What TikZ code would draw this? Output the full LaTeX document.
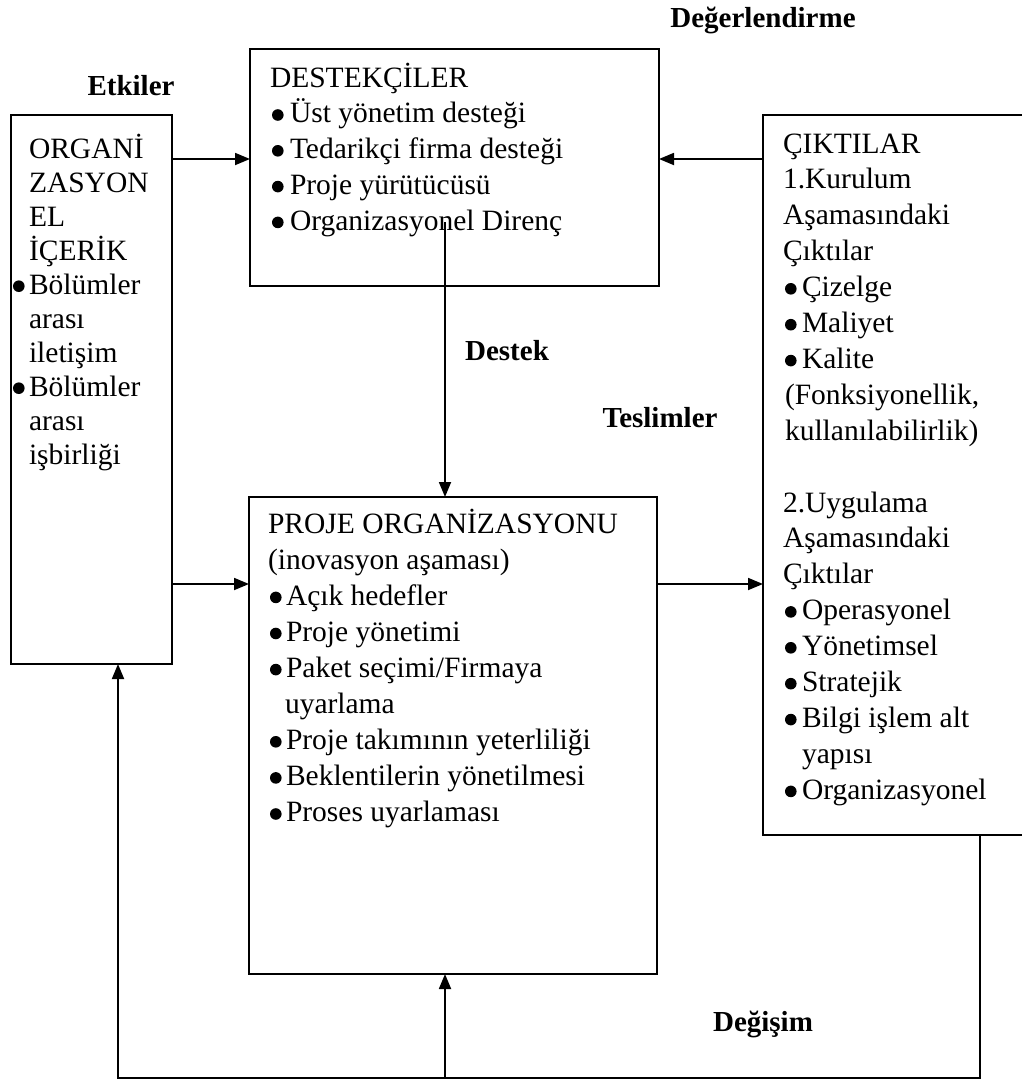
\documentclass[tikz,border=0pt]{standalone}
\usepackage{fontspec}
\setmainfont{Liberation Serif}
\usetikzlibrary{arrows.meta}
\newcommand\bul[1][17pt]{\makebox[#1][l]{\tikz[baseline=0pt]\fill (5.8pt,7.8pt) circle[radius=5.8pt];}}
\begin{document}
\begin{tikzpicture}[x=1pt,y=-1pt,
  box/.style={draw, line width=2.2pt, inner sep=0pt, outer sep=0pt, anchor=north west},
  conn/.style={line width=1.8pt},
  arr/.style={conn, -{Triangle[length=15pt,width=12pt]}},
  lbl/.style={font=\fontsize{29}{35}\selectfont\bfseries, inner sep=0pt, anchor=base},
  txt/.style={inner sep=0pt, outer sep=0pt, anchor=base west}]
\useasboundingbox (0,0) rectangle (1021,1082);

% boxes
\node[box, minimum width=161pt, minimum height=549pt] (org) at (11,115) {};
\node[box, minimum width=409pt, minimum height=237pt] (dest) at (250,49) {};
\node[box, minimum width=408pt, minimum height=477pt] (proje) at (249,497) {};
\node[box, minimum width=270pt, minimum height=720pt] (cikti) at (763,115) {};

% box texts
\node[txt] (orgT) at (29,158) {\parbox[t]{140pt}{\fontsize{29.5}{34}\selectfont
ORGANİ\\ ZASYON\\ EL\\ İÇERİK\\
\hspace*{-16pt}\bul[16pt]Bölümler\\ arası\\ iletişim\\
\hspace*{-16pt}\bul[16pt]Bölümler\\ arası\\ işbirliği}};

\node[txt] (destT) at (270,87) {\parbox[t]{385pt}{\fontsize{29.5}{35.8}\selectfont
DESTEKÇİLER\\
\hspace*{2pt}\bul[18pt]Üst yönetim desteği\\
\hspace*{2pt}\bul[18pt]Tedarikçi firma desteği\\
\hspace*{2pt}\bul[18pt]Proje yürütücüsü\\
\hspace*{2pt}\bul[18pt]Organizasyonel Direnç}};

\node[txt] (projeT) at (268,533) {\parbox[t]{385pt}{\fontsize{29.5}{36.1}\selectfont
PROJE ORGANİZASYONU\\
(inovasyon aşaması)\\
\hspace*{2pt}\bul[16pt]Açık hedefler\\
\hspace*{2pt}\bul[16pt]Proje yönetimi\\
\hspace*{2pt}\bul[16pt]Paket seçimi/Firmaya\\
\hspace*{17pt}uyarlama\\
\hspace*{2pt}\bul[16pt]Proje takımının yeterliliği\\
\hspace*{2pt}\bul[16pt]Beklentilerin yönetilmesi\\
\hspace*{2pt}\bul[16pt]Proses uyarlaması}};

\node[txt] (ciktiT) at (783,153) {\parbox[t]{235pt}{\fontsize{29.5}{35.9}\selectfont
ÇIKTILAR\\
1.Kurulum\\
Aşamasındaki\\
Çıktılar\\
\hspace*{2pt}\bul[17pt]Çizelge\\
\hspace*{2pt}\bul[17pt]Maliyet\\
\hspace*{2pt}\bul[17pt]Kalite\\
\hspace*{2pt}(Fonksiyonellik,\\
\hspace*{2pt}kullanılabilirlik)\\
\mbox{}\\
2.Uygulama\\
Aşamasındaki\\
Çıktılar\\
\hspace*{2pt}\bul[17pt]Operasyonel\\
\hspace*{2pt}\bul[17pt]Yönetimsel\\
\hspace*{2pt}\bul[17pt]Stratejik\\
\hspace*{2pt}\bul[17pt]Bilgi işlem alt\\
\hspace*{19pt}yapısı\\
\hspace*{2pt}\bul[17pt]Organizasyonel}};

% labels
\node[lbl] (degerl) at (763,27) {Değerlendirme};
\node[lbl] (etkiler) at (131,95) {Etkiler};
\node[lbl] (destek) at (507,360) {Destek};
\node[lbl] (teslim) at (660,427) {Teslimler};
\node[lbl] (degisim) at (763,1031) {Değişim};

% connectors
\coordinate (rowA) at (0,159);
\coordinate (rowB) at (0,584);
\coordinate (dstart) at (445,222);
\coordinate (fbR) at (980,1078);
\coordinate (fbM) at (445,1078);
\coordinate (fbL) at (118,1078);

\draw[arr] (org.east |- rowA) -- (dest.west |- rowA);
\draw[arr] (cikti.west |- rowA) -- (dest.east |- rowA);
\draw[arr] (org.east |- rowB) -- (proje.west |- rowB);
\draw[arr] (proje.east |- rowB) -- (cikti.west |- rowB);
\draw[arr] (dstart) -- (dstart |- proje.north);
\draw[arr] (fbR |- cikti.south) -- (fbR) -- (fbL) -- (fbL |- org.south);
\draw[arr] (fbM) -- (fbM |- proje.south);
\end{tikzpicture}
\end{document}
